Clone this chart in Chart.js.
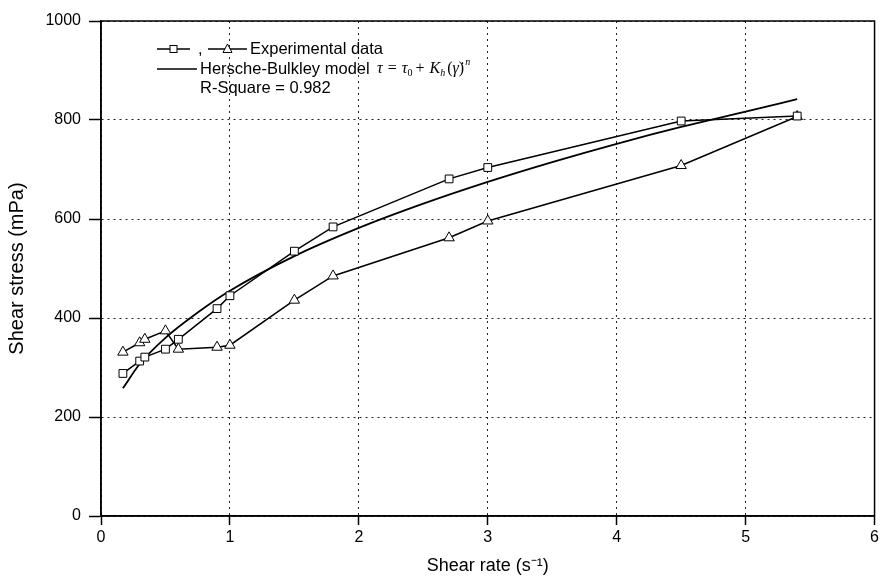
<!DOCTYPE html>
<html>
<head>
<meta charset="utf-8">
<script src="https://cdn.jsdelivr.net/npm/chart.js@4"></script>
<style>
  body { margin: 0; background: #fff; }
  canvas { display: block; }
</style>
</head>
<body>
<canvas id="rheoChart" width="882" height="577"></canvas>
<script>
// measured points (shear rate in 1/s, stress in mPa)
var shearRate = [0.17, 0.3, 0.34, 0.5, 0.6, 0.9, 1.0, 1.5, 1.8, 2.7, 3.0, 4.5, 5.4];
var stressSquares = [288, 313, 321, 337, 357, 419, 445, 535, 584, 681, 704, 798, 808];
var stressTriangles = [331, 350, 357, 374, 337, 341, 345, 436, 485, 562, 596, 708, 807];

// Herschel-Bulkley fit curve
var fitRate = [0.17, 0.3, 0.5, 0.75, 1, 1.5, 2, 2.5, 3, 3.5, 4, 4.5, 5, 5.4];
var fitStress = [258, 307, 360, 411, 455, 525, 582, 631, 675, 715, 752, 786, 817, 842];

var xTicks = [0, 1, 2, 3, 4, 5, 6];
var yTicks = [0, 200, 400, 600, 800, 1000];

function toPoints(xs, ys) {
    return xs.map(function (x, i) { return { x: x, y: ys[i] }; });
}

var SANS = "'Liberation Sans', Arial, sans-serif";
var SERIF = "'Liberation Serif', 'Times New Roman', serif";

var framePlugin = {
    id: 'frame',
    afterDraw: function (chart) {
        var ctx = chart.ctx;
        var a = chart.chartArea;
        ctx.save();
        ctx.strokeStyle = '#000';
        ctx.lineWidth = 1.5;
        ctx.strokeRect(a.left, a.top, a.right - a.left, a.bottom - a.top);
        ctx.restore();
    }
};

var legendPlugin = {
    id: 'customLegend',
    afterDraw: function (chart) {
        var ctx = chart.ctx;
        ctx.save();
        ctx.strokeStyle = '#000';
        ctx.fillStyle = '#000';
        ctx.lineWidth = 1.5;

        // row 1: sample square, sample triangle
        var y1 = 49;
        ctx.beginPath(); ctx.moveTo(157, y1); ctx.lineTo(190, y1); ctx.stroke();
        ctx.fillStyle = '#fff';
        ctx.fillRect(170, y1 - 3.5, 7, 7);
        ctx.lineWidth = 1;
        ctx.strokeRect(170, y1 - 3.5, 7, 7);
        ctx.lineWidth = 1.5;
        ctx.beginPath(); ctx.moveTo(208, y1); ctx.lineTo(247, y1); ctx.stroke();
        ctx.beginPath();
        ctx.moveTo(227.5, y1 - 5); ctx.lineTo(232, y1 + 3.5); ctx.lineTo(223, y1 + 3.5); ctx.closePath();
        ctx.fill();
        ctx.lineWidth = 1;
        ctx.stroke();
        ctx.fillStyle = '#000';
        ctx.font = '16.5px ' + SANS;
        ctx.textBaseline = 'middle';
        ctx.fillText(',', 198, y1);
        ctx.fillText('Experimental data', 250, y1);

        // row 2: model line
        var y2 = 69;
        ctx.lineWidth = 1.5;
        ctx.beginPath(); ctx.moveTo(157, y2); ctx.lineTo(197, y2); ctx.stroke();
        ctx.fillText('Hersche-Bulkley model', 200, y2);

        // formula
        var x = 377;
        var parts = [
            ['τ', 'italic 16px', 0, 1],
            [' = ', '16px', 0, 1],
            ['τ', 'italic 16px', 0, 0],
            ['0', '10px', 4, 3],
            ['+ ', '16px', 0, 1],
            ['K', 'italic 16px', 0, 0],
            ['h', 'italic 10px', 4, 2],
            ['(', '16px', 0, 0],
            ['γ\u0307', 'italic 16px', 0, 0],
            [')', '16px', 0, 1],
            ['n', 'italic 10px', -7, 0]
        ];
        parts.forEach(function (p) {
            ctx.font = p[1] + ' ' + SERIF;
            ctx.fillText(p[0], x, y2 + p[2]);
            x += ctx.measureText(p[0]).width + p[3];
        });

        // row 3
        ctx.font = '16.5px ' + SANS;
        ctx.fillText('R-Square = 0.982', 200, 88);
        ctx.restore();
    }
};

var gridStyle = {
    color: '#222',
    lineWidth: 1,
    drawTicks: true,
    tickLength: 12,
    tickColor: '#000',
    tickWidth: 1.5,
    tickBorderDash: []
};

var ctx = document.getElementById('rheoChart').getContext('2d');
var rheoChart = new Chart(ctx, {
    type: 'scatter',
    data: {
        datasets: [{
            label: 'Experimental data (square)',
            data: toPoints(shearRate, stressSquares),
            showLine: true,
            borderColor: '#000',
            borderWidth: 1.5,
            pointStyle: 'rect',
            pointRadius: 5.5,
            pointBorderWidth: 1,
            pointBackgroundColor: '#fff',
            pointBorderColor: '#000'
        }, {
            label: 'Experimental data (triangle)',
            data: toPoints(shearRate, stressTriangles),
            showLine: true,
            borderColor: '#000',
            borderWidth: 1.5,
            pointStyle: 'triangle',
            pointRadius: 6,
            pointBorderWidth: 1,
            pointBackgroundColor: '#fff',
            pointBorderColor: '#000'
        }, {
            label: 'Hersche-Bulkley model',
            data: toPoints(fitRate, fitStress),
            showLine: true,
            borderColor: '#000',
            borderWidth: 1.8,
            pointRadius: 0,
            cubicInterpolationMode: 'monotone'
        }]
    },
    options: {
        responsive: false,
        animation: false,
        layout: { padding: { top: 21, right: 5, left: 0, bottom: 0 } },
        plugins: {
            legend: { display: false },
            tooltip: { enabled: false }
        },
        scales: {
            x: {
                type: 'linear',
                min: 0,
                max: 6,
                afterBuildTicks: function (scale) {
                    scale.ticks = xTicks.map(function (v) { return { value: v }; });
                },
                afterFit: function (scale) { scale.height = 61; },
                grid: Object.assign({}, gridStyle, { tickLength: 9 }),
                border: { display: true, color: '#000', width: 1.5, dash: [2, 4] },
                ticks: {
                    color: '#000',
                    padding: 3,
                    maxRotation: 0,
                    font: { family: SANS, size: 16 },
                    callback: function (v) { return String(v); }
                },
                title: {
                    display: true,
                    text: 'Shear rate (s\u207B\u00B9)',
                    color: '#000',
                    padding: { top: 0, bottom: 0 },
                    font: { family: SANS, size: 18 }
                }
            },
            y: {
                type: 'linear',
                min: 0,
                max: 1000,
                afterBuildTicks: function (scale) {
                    scale.ticks = yTicks.map(function (v) { return { value: v }; });
                },
                afterFit: function (scale) { scale.width = 101; },
                grid: gridStyle,
                border: { display: true, color: '#000', width: 1.5, dash: [2, 4] },
                ticks: {
                    color: '#000',
                    padding: 8,
                    font: { family: SANS, size: 16 },
                    callback: function (v) { return String(v); }
                },
                title: {
                    display: true,
                    text: 'Shear stress (mPa)',
                    color: '#000',
                    padding: { top: 5, bottom: 0 },
                    font: { family: SANS, size: 20 }
                }
            }
        }
    },
    plugins: [framePlugin, legendPlugin]
});
</script>
</body>
</html>
